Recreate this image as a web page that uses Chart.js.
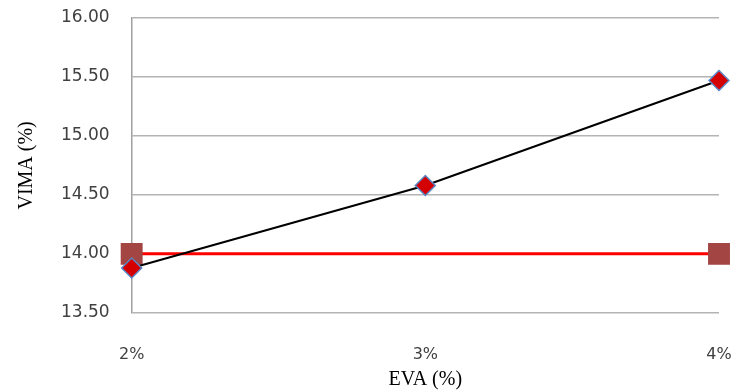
<!DOCTYPE html>
<html>
<head>
<meta charset="utf-8">
<script src="https://cdn.jsdelivr.net/npm/chart.js@4"></script>
<style>
  html, body { margin: 0; padding: 0; background: #fff; }
  #wrap { width: 742px; height: 392px; }
</style>
</head>
<body>
<div id="wrap"><canvas id="vimaChart" width="742" height="392"></canvas></div>
<script>
// VIMA against EVA content
const evaLabels = ['2%', '3%', '4%'];
const vimaValues = [13.88, 14.58, 15.47];
const vimaLimit = [14.00, 14.00, 14.00];
const yTicks = [13.50, 14.00, 14.50, 15.00, 15.50, 16.00];

const ctx = document.getElementById('vimaChart').getContext('2d');

new Chart(ctx, {
    type: 'line',
    data: {
        labels: evaLabels,
        datasets: [{
            label: 'VIMA',
            data: vimaValues,
            borderColor: '#000000',
            borderWidth: 2,
            pointStyle: 'rectRot',
            pointRadius: 10,
            pointBackgroundColor: '#d40000',
            pointBorderColor: '#5b86c4',
            pointBorderWidth: 1.5,
            tension: 0,
        }, {
            label: 'Min VIMA',
            data: vimaLimit,
            borderColor: '#ff0000',
            borderWidth: 3,
            pointStyle: 'rect',
            // squares only at the two ends of the limit line
            pointRadius: [15.5, 0, 15.5],
            pointBackgroundColor: '#a34543',
            pointBorderColor: '#a34543',
            pointBorderWidth: 0,
            order: 1,
        }],
    },
    options: {
        responsive: false,
        animation: false,
        layout: { autoPadding: false, padding: { left: 13, right: 23, top: 18, bottom: 0 } },
        plugins: {
            legend: { display: false },
            tooltip: { enabled: false },
        },
        scales: {
            x: {
                offset: false,
                // grid hidden, tick length only used as spacing under the plot
                grid: { display: false, drawTicks: true, tickLength: 29 },
                border: { display: false },
                ticks: {
                    color: '#404040',
                    padding: 3,
                    font: { family: 'DejaVu Sans', size: 16 },
                },
                title: {
                    display: true,
                    text: 'EVA (%)',
                    color: '#000',
                    padding: { top: 1, bottom: 0 },
                    font: { family: 'Liberation Serif', size: 20 },
                },
            },
            y: {
                min: 13.5,
                max: 16,
                afterBuildTicks: (axis) => {
                    axis.ticks = yTicks.map(v => ({ value: v }));
                },
                // invisible tick marks keep the labels away from the axis
                grid: { color: '#b4b4b4', lineWidth: 1.5, drawTicks: true, tickLength: 20, tickColor: 'rgba(0,0,0,0)' },
                border: { color: '#a0a0a0', width: 1.5 },
                ticks: {
                    color: '#404040',
                    padding: 2,
                    font: { family: 'DejaVu Sans', size: 17 },
                    callback: (v) => Number(v).toFixed(2),
                },
                title: {
                    display: true,
                    text: 'VIMA (%)',
                    color: '#000',
                    padding: { top: 2, bottom: 20 },
                    font: { family: 'Liberation Serif', size: 20 },
                },
            },
        },
    },
});
</script>
</body>
</html>
